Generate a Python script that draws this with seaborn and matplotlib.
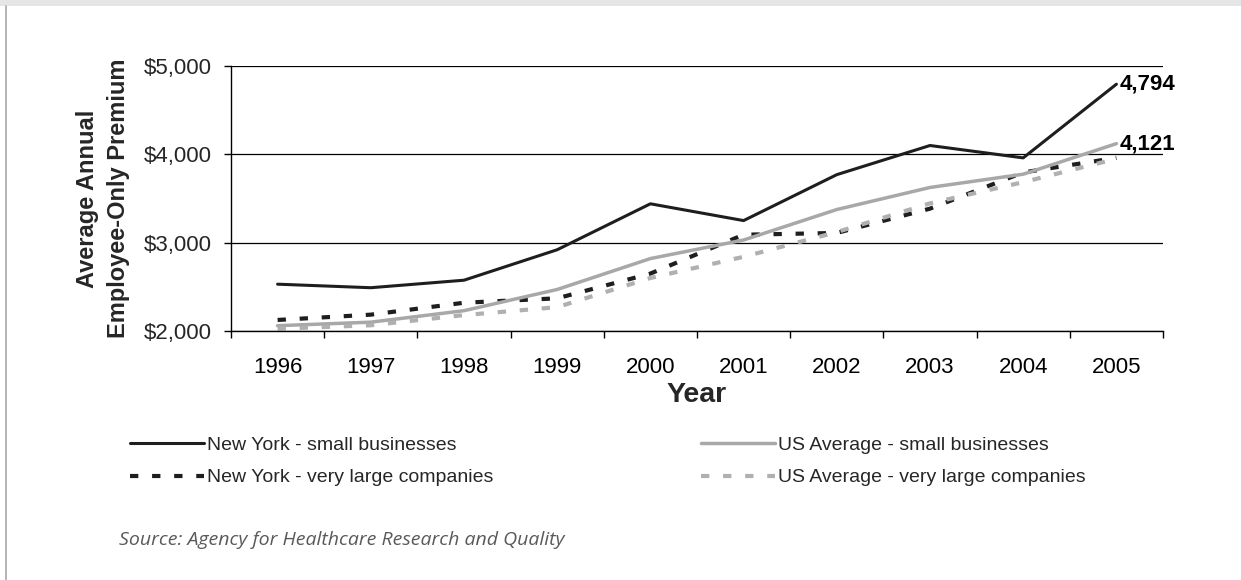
import matplotlib
matplotlib.use("Agg")
import matplotlib.pyplot as plt
from matplotlib.lines import Line2D
from matplotlib.patches import Rectangle
from matplotlib.ticker import FixedLocator, FuncFormatter
import seaborn as sns
import pandas as pd

# ---- data ----
years = ["1996", "1997", "1998", "1999", "2000", "2001", "2002", "2003", "2004", "2005"]
ny_small = [2530, 2490, 2575, 2920, 3440, 3250, 3770, 4100, 3960, 4794]
ny_large = [2125, 2185, 2320, 2370, 2650, 3090, 3110, 3385, 3795, 3960]
us_small = [2060, 2100, 2230, 2470, 2820, 3030, 3375, 3625, 3775, 4121]
us_large = [2025, 2065, 2180, 2270, 2600, 2840, 3120, 3445, 3685, 3950]
series_names = ["New York - small businesses", "New York - very large companies",
                "US Average - small businesses", "US Average - very large companies"]
y_ticks = [2000, 3000, 4000, 5000]
end_labels = ["4,794", "4,121"]

sns.set_theme(style="white")
plt.rcParams["font.family"] = ["Liberation Sans", "DejaVu Sans"]

W, H = 1241, 580
fig = plt.figure(figsize=(W / 100, H / 100), dpi=100)
ax = fig.add_axes([231 / W, 1 - 331 / H, 932 / W, 265 / H])

styles = [
    dict(color="#1e1e1e", lw=2.2, ls="-"),
    dict(color="#1e1e1e", lw=3.0, ls=(0, (2.0, 3.3))),
    dict(color="#a8a8a8", lw=2.5, ls="-"),
    dict(color="#b0b0b0", lw=3.0, ls=(0, (2.0, 3.3))),
]
values = [ny_small, ny_large, us_small, us_large]

df = pd.concat([pd.DataFrame({"Year": years, "Premium": v, "Series": n})
                for n, v in zip(series_names, values)], ignore_index=True)

handles = []
for name, st in zip(series_names, styles):
    sub = df[df["Series"] == name]
    n_before = len(ax.lines)
    sns.lineplot(data=sub, x="Year", y="Premium", ax=ax, color=st["color"],
                 linewidth=st["lw"], linestyle=st["ls"], sort=False, legend=False)
    ln = ax.lines[n_before]
    ln.set_dash_capstyle("butt")
    handles.append(Line2D([], [], color=st["color"], lw=st["lw"], ls=st["ls"],
                          dash_capstyle="butt"))

# axes styling
ax.set_xlim(-0.5, len(years) - 0.5)
ax.set_ylim(2000, 5000)
ax.set_yticks(y_ticks)
ax.yaxis.set_major_formatter(FuncFormatter(lambda v, p: f"${v:,.0f}"))
ax.yaxis.grid(True, color="black", lw=0.9)
ax.xaxis.grid(False)
ax.set_axisbelow(True)
for s in ["top", "right"]:
    ax.spines[s].set_visible(False)
for s in ["left", "bottom"]:
    ax.spines[s].set_color("black")
    ax.spines[s].set_linewidth(1.0)

ax.set_xticks(range(len(years)))
ax.set_xticklabels(years)
ax.xaxis.set_minor_locator(FixedLocator([i - 0.5 for i in range(len(years) + 1)]))
ax.tick_params(axis="x", which="major", length=0, pad=18.5, labelsize=16, colors="black")
ax.tick_params(axis="x", which="minor", length=5, width=1, direction="out", color="black", bottom=True)
ax.tick_params(axis="y", which="major", length=5, width=1, direction="out", color="black",
               pad=8.6, labelsize=16, left=True)

ax.set_xlabel("Year", fontsize=20.5, fontweight="bold", va="top")
ax.xaxis.set_label_coords(0.5, (331 - 382) / 265)
ax.set_ylabel("Average Annual\nEmployee-Only Premium", fontsize=17, fontweight="bold",
              va="center", linespacing=1.42)
ax.yaxis.set_label_coords((103 - 231) / 932, 0.5)

# end-point value labels
for vals, lab in zip([ny_small, us_small], end_labels):
    ax.annotate(lab, xy=(len(years) - 1, vals[-1]), xytext=(2, 0),
                textcoords="offset points", ha="left", va="center",
                fontsize=16, fontweight="bold", color="black", annotation_clip=False)

# legend
fs = 14
em = fs / 0.72
fig.legend(handles, series_names, loc="upper left",
           bbox_to_anchor=(130 / W, 1 - 436 / H), ncol=2, frameon=False,
           fontsize=fs, handlelength=74 / em, handletextpad=3 / em,
           columnspacing=208 / em, labelspacing=0.78, borderpad=0, borderaxespad=0)

# source
fig.text(119 / W, 1 - 540 / H, "Source: Agency for Healthcare Research and Quality",
         fontsize=14, style="italic", color="#595959", va="center", ha="left",
         family=["Open Sans", "DejaVu Sans"])

# decorations: top band and left border
fig.patches.append(Rectangle((0, 1 - 6 / H), 1, 6 / H, transform=fig.transFigure,
                             facecolor="#e6e6e8", edgecolor="none", zorder=0))
fig.lines.append(Line2D([6 / W, 6 / W], [0, 1 - 6 / H], transform=fig.transFigure,
                        color="#a8a8a8", lw=1.2))

fig.savefig("out.png", dpi=100, facecolor="white")
